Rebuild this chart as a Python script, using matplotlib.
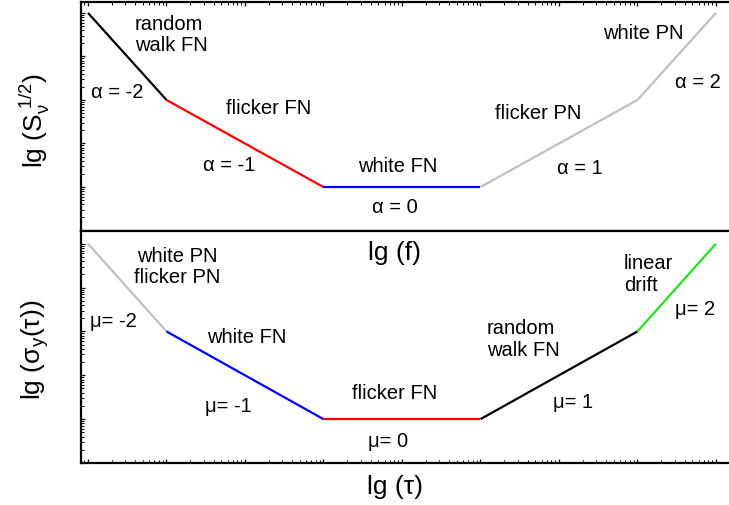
import matplotlib
matplotlib.use("Agg")
import matplotlib.pyplot as plt
from matplotlib.ticker import LogLocator, NullFormatter

plt.rcParams['font.family'] = ['Liberation Sans', 'DejaVu Sans']
plt.rcParams['mathtext.fontset'] = 'custom'
plt.rcParams['mathtext.rm'] = 'Liberation Sans'
plt.rcParams['mathtext.it'] = 'Liberation Sans'

# Break points of the piecewise power laws (frequency / averaging time)
x_nodes = [1e0, 1e1, 1e3, 1e5, 1e7, 1e8]

# Spectral density: slopes alpha = -2, -1, 0, 1, 2
spec_vals = [1e4, 1e2, 1e0, 1e0, 1e2, 1e4]
spec_colors = ['black', 'red', 'blue', '#c0c0c0', '#c0c0c0']

# Allan deviation: slopes mu = -2, -1, 0, 1, 2
adev_vals = [1e4, 1e2, 1e0, 1e0, 1e2, 1e4]
adev_colors = ['#c0c0c0', 'blue', 'red', 'black', '#22e01e']

FS = 14.5
LFS = 19

fig = plt.figure(figsize=(7.29, 5.06), dpi=100)
W, H = 729, 506
left, right = 81 / W, 1.0
ax1 = fig.add_axes([left, 1 - 232 / H, right - left, (232 - 3) / H])
ax2 = fig.add_axes([left, 1 - 464 / H, right - left, (464 - 232) / H])

def style(ax, top):
    ax.set_xscale('log')
    ax.set_yscale('log')
    ax.set_xlim(10 ** -0.089, 10 ** 8.166)
    ax.spines['right'].set_visible(False)
    for s in ax.spines.values():
        s.set_linewidth(1.6)
    for axis in (ax.xaxis, ax.yaxis):
        axis.set_major_locator(LogLocator(base=10, numticks=20))
        axis.set_minor_locator(LogLocator(base=10, subs=range(2, 10), numticks=20))
        axis.set_major_formatter(NullFormatter())
        axis.set_minor_formatter(NullFormatter())
    ax.tick_params(which='both', direction='in', top=top, bottom=not top,
                   left=True, right=False, labelleft=False, labelbottom=False)
    ax.tick_params(which='major', length=3, width=0.9)
    ax.tick_params(which='minor', length=2, width=0.7)

style(ax1, True)
style(ax2, False)
ax1.set_ylim(10 ** -1.01, 10 ** 4.25)
ax2.set_ylim(10 ** -1.0, 10 ** 4.29)

for i in range(len(x_nodes) - 1):
    ax1.plot(x_nodes[i:i + 2], spec_vals[i:i + 2], color=spec_colors[i], lw=1.6,
             solid_capstyle='butt')
    ax2.plot(x_nodes[i:i + 2], adev_vals[i:i + 2], color=adev_colors[i], lw=1.6,
             solid_capstyle='butt')

def lab(ax, x, y, s, ha='left'):
    ax.text(x, y, s, transform=ax.transAxes, fontsize=FS, ha=ha, va='center',
            multialignment=ha, linespacing=1.15)

# Upper panel annotations
lab(ax1, 0.0833, 0.861, 'random\nwalk FN')
lab(ax1, 0.0154, 0.6087, 'α = -2')
lab(ax1, 0.2238, 0.539, 'flicker FN')
lab(ax1, 0.188, 0.291, 'α = -1')
lab(ax1, 0.4275, 0.287, 'white FN')
lab(ax1, 0.449, 0.1087, 'α = 0')
lab(ax1, 0.639, 0.517, 'flicker PN')
lab(ax1, 0.7346, 0.278, 'α = 1')
lab(ax1, 0.8056, 0.865, 'white PN')
lab(ax1, 0.9167, 0.652, 'α = 2')

# Lower panel annotations
lab(ax2, 0.148, 0.849, 'white PN\nflicker PN', ha='center')
lab(ax2, 0.0139, 0.616, 'μ= -2')
lab(ax2, 0.194, 0.547, 'white FN')
lab(ax2, 0.191, 0.246, 'μ= -1')
lab(ax2, 0.418, 0.306, 'flicker FN')
lab(ax2, 0.443, 0.095, 'μ= 0')
lab(ax2, 0.6265, 0.5366, 'random\nwalk FN')
lab(ax2, 0.728, 0.263, 'μ= 1')
lab(ax2, 0.838, 0.817, 'linear\ndrift')
lab(ax2, 0.9167, 0.664, 'μ= 2')

# Axis titles
fig.text(395 / W, 1 - 253 / H, 'lg (f)', fontsize=LFS, ha='center', va='center')
fig.text(395 / W, 1 - 487 / H, 'lg (τ)', fontsize=LFS, ha='center', va='center')
fig.text(35 / W, 1 - 120 / H, r'lg (S$_{\nu}^{\ 1/2}$)', fontsize=LFS,
         ha='center', va='center', rotation=90)
fig.text(35 / W, 1 - 350 / H, r'lg ($\mathregular{\sigma_y(\tau)}$)', fontsize=LFS,
         ha='center', va='center', rotation=90)

fig.savefig('out.png', dpi=100)
